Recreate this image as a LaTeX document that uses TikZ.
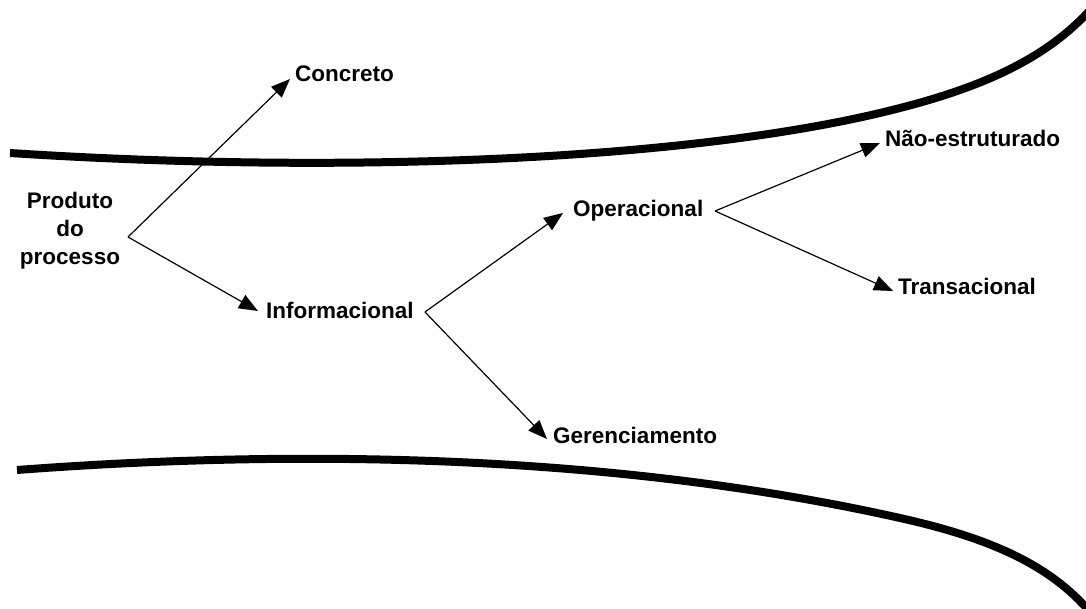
\documentclass[tikz,border=0pt]{standalone}
\usepackage{fontspec}
\setmainfont{Liberation Sans}
\usetikzlibrary{arrows.meta}
\begin{document}
\begin{tikzpicture}[x=1pt,y=-1pt,
  lbl/.style={font=\fontsize{22.5}{28}\selectfont\bfseries, inner sep=0pt, anchor=base west},
  arr/.style={line width=1.2pt, -{Triangle[length=19pt,width=15pt]}},
  band/.style={line width=8pt}]
\useasboundingbox (0,0) rectangle (1086,609);
\fill[white] (0,0) rectangle (1086,609);

% upper and lower boundary curves
\draw[band] (10,153) .. controls (350,175) and (700,160) .. (900,108)
                     .. controls (990,85) and (1050,55) .. (1092,8);
\draw[band] (17,470) .. controls (350,445) and (650,462) .. (900,518)
                     .. controls (990,538) and (1050,565) .. (1090,612);

% labels
\node[font=\fontsize{22.5}{28}\selectfont\bfseries, align=center, inner sep=0pt]
  (produto) at (70,231) {Produto\\do\\processo};
\node[lbl] (concreto) at (295,82) {Concreto};
\node[lbl] (info) at (266,319) {Informacional};
\node[lbl] (oper) at (573,217) {Operacional};
\node[lbl] (geren) at (553,443) {Gerenciamento};
\node[lbl] (naoest) at (885,147) {Não-estruturado};
\node[lbl] (trans) at (898,295) {Transacional};

% branching points
\coordinate (v1) at (128,237);
\coordinate (v2) at (425,312);
\coordinate (v3) at (715,211);

% connectors
\draw[arr] (v1) -- ([xshift=-5pt,yshift=3pt]concreto.base west);
\draw[arr] (v1) -- ([xshift=-8pt,yshift=8pt]info.base west);
\draw[arr] (v2) -- ([xshift=-10pt,yshift=4pt]oper.base west);
\draw[arr] (v2) -- ([xshift=-6pt,yshift=4pt]geren.base west);
\draw[arr] (v3) -- ([xshift=-5pt,yshift=4pt]naoest.base west);
\draw[arr] (v3) -- ([xshift=-5pt,yshift=4pt]trans.base west);
\end{tikzpicture}
\end{document}
